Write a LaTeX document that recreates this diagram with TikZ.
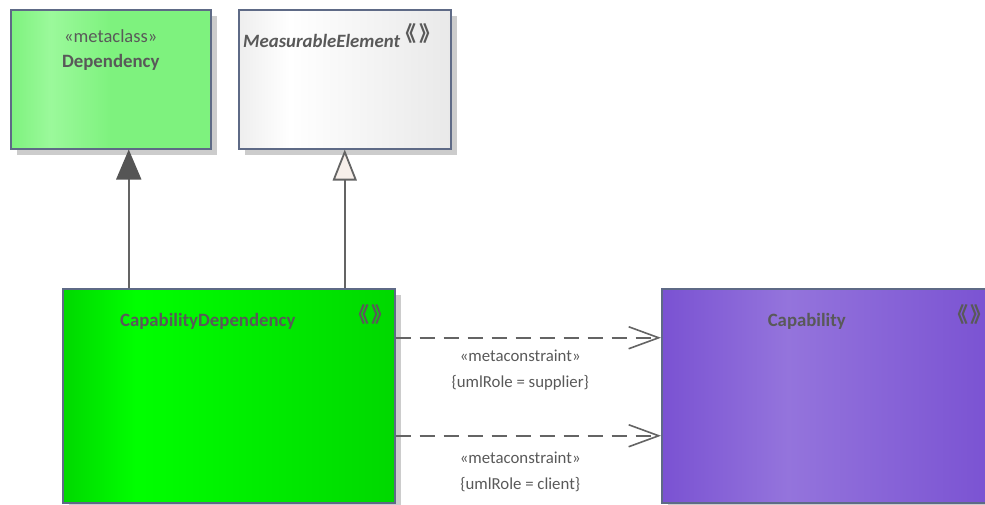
\documentclass[tikz,border=0pt]{standalone}
\usepackage{fontspec}
\setmainfont{Carlito}
\newfontfamily\cjk{Noto Sans CJK SC}
\usetikzlibrary{arrows.meta,positioning,shadows}
\definecolor{txtgray}{HTML}{595959}
\definecolor{linegray}{HTML}{646464}
\definecolor{headgray}{HTML}{555555}
\definecolor{boxline}{HTML}{5E6A86}
\definecolor{shadowgray}{HTML}{CCCCCC}
\definecolor{genhollow}{HTML}{F7EFEA}
\definecolor{depA}{HTML}{7EF27E}
\definecolor{depB}{HTML}{9BF99B}
\definecolor{meA}{HTML}{EEEEEE}
\definecolor{meB}{HTML}{FFFFFF}
\definecolor{meC}{HTML}{E9E9E9}
\definecolor{cdA}{HTML}{00D800}
\definecolor{cdB}{HTML}{00FF00}
\definecolor{capA}{HTML}{7A52D2}
\definecolor{capB}{HTML}{9474DC}
\pgfdeclarehorizontalshading{depshade}{100bp}{color(0bp)=(depA); color(25bp)=(depA); color(35bp)=(depB); color(50bp)=(depA); color(100bp)=(depA)}
\pgfdeclarehorizontalshading{meshade}{100bp}{color(0bp)=(meA); color(25bp)=(meA); color(37bp)=(meB); color(75bp)=(meC); color(100bp)=(meC)}
\pgfdeclarehorizontalshading{cdshade}{100bp}{color(0bp)=(cdA); color(25bp)=(cdA); color(36bp)=(cdB); color(75bp)=(cdA); color(100bp)=(cdA)}
\pgfdeclarehorizontalshading{capshade}{100bp}{color(0bp)=(capA); color(25bp)=(capA); color(44bp)=(capB); color(75bp)=(capA); color(100bp)=(capA)}
\newcommand\stmark{\makebox[28pt][c]{\cjk\bfseries\fontsize{21}{22}\selectfont 《\kern3pt》}}
\tikzset{
  every node/.style={text=txtgray},
  clsbox/.style={draw=boxline,line width=1.5pt,anchor=north west,inner sep=0pt,
    general shadow={fill=shadowgray,shadow xshift=6pt,shadow yshift=-6pt}},
  stereo/.style={font=\fontsize{18.5}{22}\selectfont,inner sep=0pt},
  clsname/.style={font=\fontsize{18.8}{22}\selectfont\bfseries,inner sep=0pt},
  abstname/.style={font=\fontsize{18.8}{22}\selectfont\bfseries\itshape,inner sep=0pt},
  marker/.style={inner sep=0pt},
  genfill/.style={linegray,line width=1.8pt,
    -{Triangle[length=30pt,width=25pt,fill=headgray,color=headgray]}},
  genopen/.style={linegray,line width=1.8pt,
    -{Triangle[length=31pt,width=24pt,fill=genhollow]}},
  metadep/.style={linegray,line width=1.6pt,dash pattern=on 15pt off 9pt,
    -{Straight Barb[length=30pt,width=22pt]}},
  metalbl/.style={font=\fontsize{16.8}{26}\selectfont,align=center,inner sep=0pt},
}
\begin{document}
\begin{tikzpicture}[x=1pt,y=-1pt]
  \useasboundingbox (0,0) rectangle (985,504);
  % metaclass and abstract parent
  \node[clsbox,shading=depshade,minimum width=200pt,minimum height=139pt] (dep) at (10,9) {};
  \node[clsbox,shading=meshade,minimum width=212pt,minimum height=139pt] (me) at (238,9) {};
  \node[stereo] (depster) at ([yshift=-27pt]dep.north) {«metaclass»};
  \node[clsname] (depname) at ([yshift=-53pt]dep.north) {Dependency};
  \node[abstname,anchor=west] (mename) at ([shift={(5,32)}]me.north west) {MeasurableElement};
  \node[marker,anchor=west] (memark) at ([shift={(4,-7)}]mename.east) {\stmark};
  % stereotype and target
  \node[clsbox,shading=cdshade,minimum width=332pt,minimum height=214pt] (capdep) at (62,288) {};
  \node[clsbox,shading=capshade,minimum width=332pt,minimum height=214pt] (cap) at (661,288) {};
  \node[clsname] (capdepname) at ([shift={(-21,33)}]capdep.north) {CapabilityDependency};
  \node[marker] (capdepmark) at ([shift={(-25,27)}]capdep.north east) {\stmark};
  \node[clsname] (capname) at ([shift={(-21,33)}]cap.north) {Capability};
  \node[marker] (capmark) at ([shift={(-25,27)}]cap.north east) {\stmark};
  % generalizations
  \coordinate (depfoot) at ([xshift=18pt]dep.south);
  \draw[genfill] (depfoot |- capdep.north) -- (depfoot);
  \draw[genopen] (me.south |- capdep.north) -- (me.south);
  % metaconstraints
  \draw[metadep] ([yshift=58pt]capdep.east) -- ([yshift=58pt]cap.west)
    node[metalbl,midway,below=11pt,xshift=-8pt] (suplbl) {«metaconstraint»\\\{umlRole = supplier\}};
  \draw[metadep] ([yshift=-40pt]capdep.east) -- ([yshift=-40pt]cap.west)
    node[metalbl,midway,below=15pt,xshift=-8pt] (clilbl) {«metaconstraint»\\\{umlRole = client\}};
\end{tikzpicture}
\end{document}
